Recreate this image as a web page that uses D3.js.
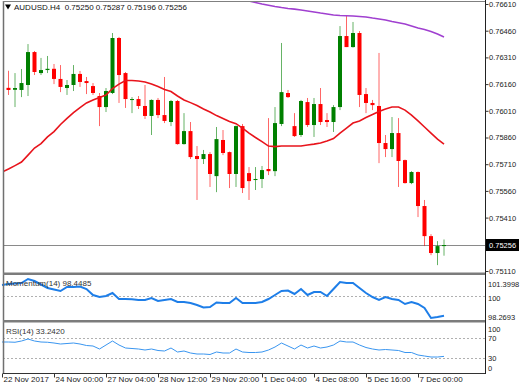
<!DOCTYPE html>
<html><head><meta charset="utf-8">
<script src="https://cdn.jsdelivr.net/npm/d3@7"></script>
<style>body{margin:0;background:#fff}svg{display:block}text{font-family:"Liberation Sans",Arial,sans-serif}</style>
</head><body><svg id="c" width="520" height="390"></svg>
<script>
const title = "AUDUSD.H4  0.75250 0.75287 0.75196 0.75256";
const xTickIndex = [0, 8, 16, 24, 32, 40, 48, 56, 64];
const xTickLabels = ["22 Nov 2017", "24 Nov 00:00", "27 Nov 04:00", "28 Nov 12:00", "29 Nov 20:00", "1 Dec 04:00", "4 Dec 08:00", "5 Dec 16:00", "7 Dec 00:00"];
const yTickValues = [0.76610, 0.76460, 0.76310, 0.76160, 0.76010, 0.75860, 0.75710, 0.75560, 0.75410, 0.75110];
const lastPrice = 0.75256;

const open = [
.75863,.76139,.76128,.76127,.76155,.76340,.76222,.76239,.76246,.76189,
.76138,.76155,.76217,.76177,.76149,.76093,.76031,.76110,.76419,.76222,
.76071,.76076,.76037,.75981,.76071,.75986,.75947,.76065,.75823,.75896,
.75756,.75739,.75767,.75643,.75846,.75778,.75655,.75924,.75660,.75621,
.75627,.75683,.75671,.75936,.76110,.75924,.75874,.76059,.75930,.76048,
.75958,.75947,.76031,.76430,.76368,.76447,.76104,.76054,.76037,.75829,
.75795,.75885,.75733,.75604,.75666,.75475,.75306,.75211,.75250];
const high = [
.76183,.76235,.76222,.76245,.76385,.76346,.76307,.76318,.76273,.76267,
.76183,.76267,.76234,.76200,.76166,.76110,.76138,.76447,.76425,.76228,
.76087,.76093,.76155,.76074,.76082,.76200,.76071,.76071,.75997,.75947,
.75812,.75790,.75778,.75919,.75902,.75781,.75927,.75936,.75694,.75694,
.75700,.75969,.76031,.76391,.76127,.75997,.76071,.76082,.76082,.76138,
.75997,.76042,.76486,.76543,.76509,.76458,.76138,.76071,.76335,.75874,
.75975,.75969,.75736,.75671,.75669,.75509,.75317,.75278,.75287];
const low = [
.75835,.76099,.76031,.76087,.76093,.76211,.76211,.76222,.76160,.76115,
.76099,.76121,.76144,.76104,.76099,.75924,.76003,.76104,.76054,.76026,
.75997,.76020,.75964,.75874,.75969,.75941,.75924,.75820,.75820,.75739,
.75509,.75711,.75582,.75553,.75761,.75576,.75582,.75548,.75509,.75565,
.75576,.75649,.75643,.75924,.76082,.75863,.75863,.75919,.75863,.75930,
.75919,.75891,.76014,.76368,.76365,.76031,.75997,.76014,.75716,.75750,
.75750,.75582,.75601,.75598,.75413,.75250,.75199,.75143,.75196];
const close = [
.76144,.76127,.76138,.76166,.76340,.76228,.76239,.76246,.76189,.76144,
.76155,.76217,.76172,.76166,.76110,.76031,.76121,.76419,.76211,.76076,
.76076,.76037,.75981,.76071,.75986,.75953,.76065,.75823,.75896,.75750,
.75739,.75767,.75655,.75851,.75773,.75655,.75924,.75576,.75615,.75627,
.75677,.75671,.75941,.76115,.76087,.75868,.76065,.75930,.76048,.75947,
.75947,.76031,.76430,.76368,.76447,.76099,.76054,.76042,.75829,.75795,
.75885,.75728,.75604,.75666,.75475,.75306,.75211,.75250,.75256];

const maFast = [
.75666,.75683,.75702,.75722,.75761,.75801,.75826,.75863,.75893,.75933,
.75967,.76000,.76028,.76054,.76071,.76085,.76099,.76135,.76160,.76180,
.76180,.76177,.76172,.76160,.76146,.76130,.76118,.76093,.76071,.76056,
.76040,.76020,.76003,.75983,.75967,.75950,.75938,.75913,.75885,.75860,
.75837,.75812,.75809,.75812,.75812,.75812,.75812,.75818,.75823,.75829,
.75840,.75854,.75885,.75913,.75941,.75953,.75972,.75989,.76006,.76020,
.76031,.76031,.76014,.75986,.75953,.75919,.75885,.75851,.75823];
const maSlowStart = 34;
const maSlow = [
.76652,.76646,.76641,.76635,.76627,.76618,.76610,.76603,.76596,.76590,
.76585,.76581,.76576,.76571,.76565,.76559,.76554,.76548,.76545,.76544,
.76543,.76540,.76537,.76531,.76526,.76520,.76512,.76505,.76498,.76487,
.76475,.76467,.76456,.76442,.76425];

const momentum = [
100.918,100.998,101.039,101.079,101.3998,101.239,100.958,100.677,100.557,100.437,
100.758,100.758,100.798,100.597,100.115,99.955,100.035,100.276,99.794,99.80,
99.78,99.714,99.71,99.875,99.634,99.714,99.794,99.554,99.55,99.473,
99.313,99.112,99.152,99.514,99.473,99.47,99.875,99.473,99.47,99.47,
99.554,99.794,100.115,100.437,100.477,100.196,100.597,100.115,100.356,100.36,
100.035,100.597,101.159,101.079,101.08,100.677,100.276,99.955,99.714,99.955,
99.794,99.714,99.393,99.554,99.393,99.072,98.2693,98.35,98.4485];
const momTicks = [101.3998, 100, 98.2693];
const momLabel = "Momentum(14) 98.4485";

const rsi = [
62,62,61.5,64,68,64,62,61.5,60,58,
59,60,58,55,54,48,56,64,56,50,
49,48,46,48,45,44,50,42,44,40,
38,38,37,42,40,40,48,42,41,41,
42,46,52,60,54,48,56,50,54,50,
52,56,64,62,62,56,51,48,46,47,
46,45,41,41,36,34,32,32,33.242];
const rsiTicks = [100, 70, 30, 0];
const rsiLevels = [70, 30];
const rsiLabel = "RSI(14) 33.2420";

const FS = 7.5;
const svg = d3.select("#c");
const L = 3, R = 485;
const x = d3.scaleLinear().domain([0, 68]).range([2, 444]);
const y = d3.scaleLinear().domain([0.76610, 0.75110]).range([4, 271]);
const yM = d3.scaleLinear().domain([98.2693, 101.3998]).range([318, 279]);
const yR = d3.scaleLinear().domain([0, 100]).range([373, 323]);

svg.append("defs").append("clipPath").attr("id", "cm")
  .append("rect").attr("x", L + 1).attr("y", 2).attr("width", R - L - 1).attr("height", 270);

// price line
svg.append("line").attr("x1", L).attr("x2", R).attr("y1", Math.round(y(lastPrice)) + 0.5).attr("y2", Math.round(y(lastPrice)) + 0.5)
  .attr("stroke", "#8a8a8a").attr("stroke-width", 1);

const gm = svg.append("g").attr("clip-path", "url(#cm)");
const idx = d3.range(open.length);
const up = i => close[i] >= open[i];
const col = i => up(i) ? "#008000" : "#ff0000";

gm.selectAll(".wick").data(idx).join("line")
  .attr("x1", i => x(i)).attr("x2", i => x(i))
  .attr("y1", i => y(high[i])).attr("y2", i => y(low[i]))
  .attr("stroke", col).attr("stroke-opacity", 0.6).attr("stroke-width", 1);
gm.selectAll(".body").data(idx).join("rect")
  .attr("x", i => x(i) - 2).attr("width", 4)
  .attr("y", i => y(Math.max(open[i], close[i])))
  .attr("height", i => Math.max(1, y(Math.min(open[i], close[i])) - y(Math.max(open[i], close[i]))))
  .attr("fill", col);

gm.append("path").datum(maFast)
  .attr("d", d3.line().x((d, i) => x(i)).y(d => y(d)))
  .attr("fill", "none").attr("stroke", "#e8141c").attr("stroke-width", 1.6);
gm.append("path").datum(maSlow)
  .attr("d", d3.line().x((d, i) => x(i + maSlowStart)).y(d => y(d)))
  .attr("fill", "none").attr("stroke", "#a040d0").attr("stroke-width", 1.6);

// momentum
svg.append("line").attr("x1", L).attr("x2", R).attr("y1", Math.round(yM(100)) + 0.5).attr("y2", Math.round(yM(100)) + 0.5)
  .attr("stroke", "#b0b0b0").attr("stroke-dasharray", "2,2");
svg.append("path").datum(momentum)
  .attr("d", d3.line().x((d, i) => x(i)).y(d => yM(d)))
  .attr("fill", "none").attr("stroke", "#1e7ee8").attr("stroke-width", 2);
svg.append("text").attr("x", 6).attr("y", 286).attr("font-size", 8).attr("fill", "#333").text(momLabel);

// rsi
rsiLevels.forEach(v => svg.append("line").attr("x1", L).attr("x2", R)
  .attr("y1", Math.round(yR(v)) + 0.5).attr("y2", Math.round(yR(v)) + 0.5)
  .attr("stroke", "#b0b0b0").attr("stroke-dasharray", "2,2"));
svg.append("path").datum(rsi)
  .attr("d", d3.line().x((d, i) => x(i)).y(d => yR(d)))
  .attr("fill", "none").attr("stroke", "#3a96f0").attr("stroke-width", 1);
svg.append("text").attr("x", 6).attr("y", 334).attr("font-size", 8).attr("fill", "#333").text(rsiLabel);

// frames
svg.append("line").attr("x1", L + 0.5).attr("x2", L + 0.5).attr("y1", 1).attr("y2", 374).attr("stroke", "#707070").attr("stroke-width", 1.5);
svg.append("line").attr("x1", L).attr("x2", R).attr("y1", 1.5).attr("y2", 1.5).attr("stroke", "#808080");
svg.append("rect").attr("x", L).attr("y", 272.5).attr("width", R - L).attr("height", 2.5).attr("fill", "#7c7c7c");
svg.append("rect").attr("x", L).attr("y", 320).attr("width", R - L).attr("height", 2.5).attr("fill", "#7c7c7c");
svg.append("line").attr("x1", L).attr("x2", R).attr("y1", 373.5).attr("y2", 373.5).attr("stroke", "#333");
svg.append("line").attr("x1", R + 0.5).attr("x2", R + 0.5).attr("y1", 0).attr("y2", 374).attr("stroke", "#222");

// y axis main
const ya = svg.append("g").attr("transform", `translate(${R + 0.5},0)`)
  .call(d3.axisRight(y).tickValues(yTickValues).tickFormat(d3.format(".5f")).tickSize(3).tickSizeOuter(0));
ya.select(".domain").remove();
ya.selectAll("line").attr("stroke", "#333");
ya.selectAll("text").attr("font-size", FS).attr("font-family", "Liberation Sans, Arial, sans-serif").attr("fill", "#222").attr("x", 3.5);

// price tag
const py = y(lastPrice);
svg.append("rect").attr("x", R + 1).attr("y", py - 6).attr("width", 33).attr("height", 12).attr("fill", "#000");
svg.append("text").attr("x", R + 4).attr("y", py + 3).attr("font-size", FS).attr("fill", "#fff").text(d3.format(".5f")(lastPrice));

// momentum axis labels
const momLabY = [yM(momTicks[0]) + 5, yM(momTicks[1]) + 1.5, yM(momTicks[2]) - 1.5];
momTicks.forEach((v, k) => {
  svg.append("text").attr("x", R + 3).attr("y", momLabY[k] + 3).attr("font-size", FS).attr("fill", "#222").text(String(v));
});
const rsiLabY = [yR(100) + 6, yR(70), yR(30), yR(0) - 5];
rsiTicks.forEach((v, k) => {
  svg.append("text").attr("x", R + 3).attr("y", rsiLabY[k] + 3).attr("font-size", FS).attr("fill", "#222").text(String(v));
});

// x axis
const xa = svg.append("g").attr("transform", "translate(0,373.5)")
  .call(d3.axisBottom(x).tickValues(xTickIndex).tickFormat((d, k) => xTickLabels[k]).tickSize(4).tickSizeOuter(0));
xa.select(".domain").remove();
xa.selectAll("line").attr("stroke", "#333");
xa.selectAll("text").attr("font-size", 8).attr("font-family", "Liberation Sans, Arial, sans-serif").attr("fill", "#222")
  .attr("text-anchor", "start").attr("dx", 1).attr("y", 3);

// header
svg.append("path").attr("d", "M5,4.5L11,4.5L8,9.5Z").attr("fill", "#000");
svg.append("text").attr("x", 14).attr("y", 10).attr("font-size", 8).attr("fill", "#111").attr("xml:space", "preserve").style("white-space", "pre").text(title);
</script></body></html>
